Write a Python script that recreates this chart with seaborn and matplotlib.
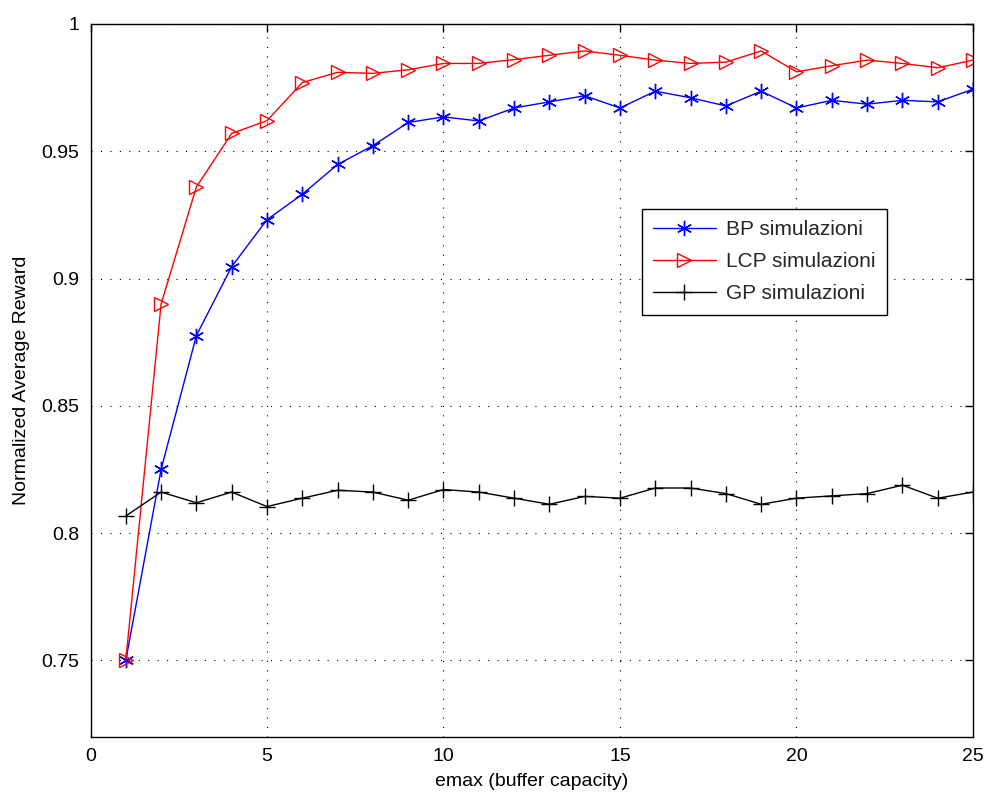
import matplotlib
matplotlib.use("Agg")
import matplotlib.pyplot as plt
import seaborn as sns
import pandas as pd

emax = list(range(1, 26))
bp = [0.750, 0.825, 0.8776, 0.9047, 0.9231, 0.9331, 0.9448, 0.9522, 0.9613, 0.9635,
      0.9619, 0.9670, 0.9694, 0.9718, 0.9670, 0.9736, 0.9710, 0.9678, 0.9736, 0.9670,
      0.9700, 0.9685, 0.9700, 0.9694, 0.9744]
lcp = [0.750, 0.890, 0.936, 0.957, 0.962, 0.977, 0.981, 0.9806, 0.982, 0.9845,
       0.9845, 0.986, 0.9877, 0.9894, 0.9877, 0.9858, 0.9845, 0.985, 0.9894, 0.9812,
       0.9836, 0.9858, 0.9845, 0.9828, 0.9858]
gp = [0.8067, 0.8161, 0.8119, 0.8161, 0.8104, 0.8137, 0.8168, 0.8161, 0.8129, 0.8171,
      0.8161, 0.8137, 0.8113, 0.8144, 0.8137, 0.8177, 0.8177, 0.8155, 0.8113, 0.8137,
      0.8146, 0.8155, 0.8188, 0.8137, 0.8161]
series_names = ["BP simulazioni", "LCP simulazioni", "GP simulazioni"]
xticks = [0, 5, 10, 15, 20, 25]
yticks = [0.75, 0.8, 0.85, 0.9, 0.95, 1.0]
ytick_labels = ["0.75", "0.8", "0.85", "0.9", "0.95", "1"]

sns.set_theme(style="white")
plt.rcParams['font.family'] = ['Liberation Sans', 'DejaVu Sans']

fig = plt.figure(figsize=(9.88, 7.94), dpi=100)
ax = fig.add_axes([0.0916, 0.0722, 0.8932, 0.8976])

styles = [
    (bp, "blue", (6, 2, 0), dict(markerfacecolor="blue", markeredgecolor="blue", markersize=11, markeredgewidth=1.0)),
    (lcp, "red", ">", dict(markerfacecolor="none", markeredgecolor="red", markersize=10, markeredgewidth=1.0)),
    (gp, "black", "+", dict(markerfacecolor="black", markeredgecolor="black", markersize=12, markeredgewidth=1.0)),
]
for name, (vals, col, mk, kw) in zip(series_names, styles):
    df = pd.DataFrame({"emax": emax, "val": vals})
    sns.lineplot(data=df, x="emax", y="val", ax=ax, color=col, marker=mk,
                 linewidth=1.0, label=name, **kw)

ax.set_xlim(0, 25)
ax.set_ylim(0.72, 1.0)
ax.set_xticks(xticks)
ax.set_xticklabels([str(t) for t in xticks])
ax.set_yticks(yticks)
ax.set_yticklabels(ytick_labels)
ax.tick_params(axis='both', direction='in', length=6, width=1, labelsize=14,
               top=True, right=True, colors='black', pad=8)
ax.grid(True, linestyle=(0, (1, 7.5)), color='black', linewidth=0.8)
for s in ax.spines.values():
    s.set_color('black')
    s.set_linewidth(1.0)
ax.set_xlabel("emax (buffer capacity)", fontsize=14, color='black', labelpad=6)
ax.set_ylabel("Normalized Average Reward", fontsize=14, color='black', labelpad=8)

leg = ax.legend(loc='upper left', bbox_to_anchor=(0.6246, 0.7404), borderaxespad=0,
                fontsize=15, frameon=True, fancybox=False, edgecolor='black',
                framealpha=1, handlelength=3.0, handletextpad=0.5,
                borderpad=0.55, labelspacing=0.62)
leg.get_frame().set_linewidth(1.0)

fig.savefig("out.png", dpi=100)
